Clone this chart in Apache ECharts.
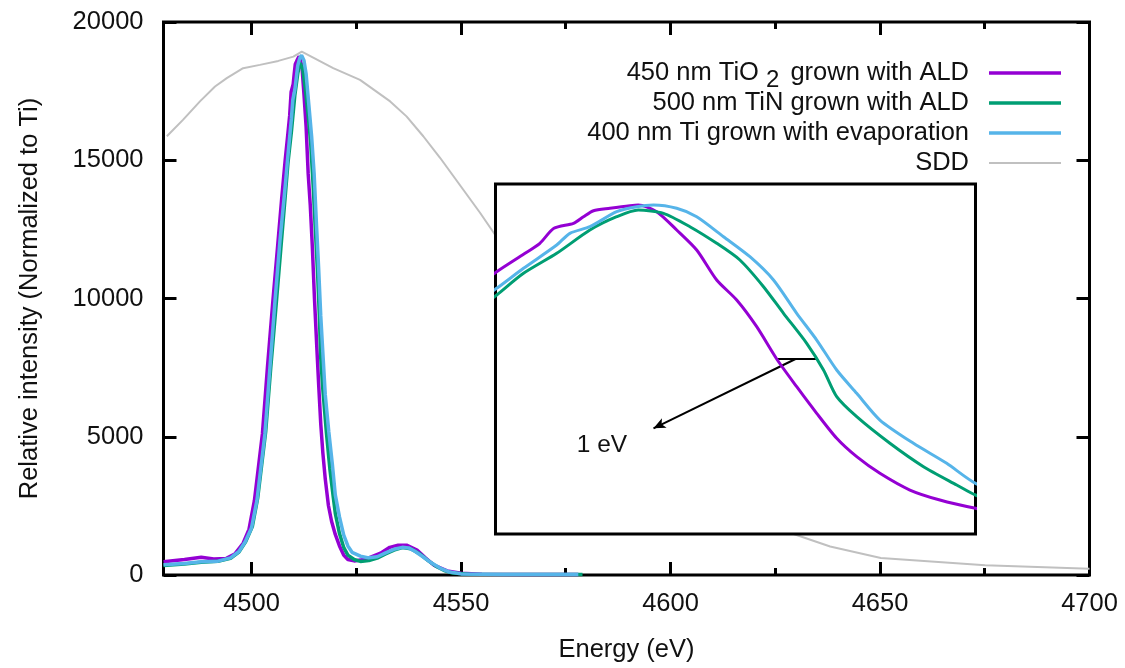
<!DOCTYPE html>
<html>
<head>
<meta charset="utf-8">
<script src="https://cdn.jsdelivr.net/npm/echarts@6/dist/echarts.min.js"></script>
<style>
  html, body { margin: 0; padding: 0; background: #fff; }
  #chart { width: 1125px; height: 668px; }
</style>
</head>
<body>
<div id="chart"></div>
<script>
// Ti K-alpha emission spectra of three Ti films, plus the detector (SDD) response.
const nameTiO2 = '450 nm TiO2 grown with ALD';
const nameTiN = '500 nm TiN grown with ALD';
const nameTi = '400 nm Ti grown with evaporation';
const nameSDD = 'SDD';

// [energy (eV), relative intensity]
const tio2Data = [
  [4479, 480], [4484, 560], [4488, 640], [4491, 580], [4494, 600], [4496, 760], [4498, 1150],
  [4499.4, 1650], [4500.7, 2700], [4502.6, 5100], [4503.8, 7500], [4505.1, 9900], [4506.3, 12000],
  [4507.2, 13600], [4508.03, 14988], [4508.71, 16000], [4509.11, 16611], [4509.46, 17468],
  [4509.95, 17754], [4510.2, 18131], [4510.45, 18474], [4510.86, 18611], [4511.36, 18760],
  [4511.57, 18800], [4512.03, 18417], [4512.53, 17371], [4513.03, 16228], [4513.53, 14514],
  [4514.03, 13371], [4514.53, 11845], [4515.03, 10000], [4515.53, 8417], [4516.03, 6896],
  [4516.53, 5468], [4517.03, 4417], [4517.61, 3468], [4518.36, 2514], [4519.11, 1943],
  [4520, 1468], [4521, 1050], [4522, 720], [4523, 560], [4524.5, 510], [4526, 540], [4528, 620],
  [4530.8, 790], [4533, 1000], [4535, 1080], [4537, 1080], [4539.5, 900], [4541.5, 620],
  [4543.5, 360], [4546.7, 150], [4550, 60], [4555, 30], [4565, 20], [4578, 15]
];

const tinData = [
  [4479, 340], [4484, 400], [4488, 460], [4492, 500], [4495, 600], [4497, 830], [4498.6, 1200],
  [4500.2, 1750], [4501.5, 2800], [4503.4, 5200], [4504.6, 7500], [4505.9, 9800], [4507, 11800],
  [4508.03, 13656], [4508.7, 14897], [4509.53, 16039], [4510.36, 17371], [4511.03, 18131],
  [4511.57, 18514], [4512.2, 18325], [4512.86, 17560], [4513.53, 16611], [4514.11, 15656],
  [4514.7, 14131], [4515.2, 12611], [4515.78, 10896], [4516.2, 9371], [4516.53, 7845],
  [4517.03, 6702], [4517.86, 5182], [4518.7, 3845], [4519.53, 2800], [4520, 2228],
  [4521, 1500], [4522, 1000], [4523, 720], [4524.5, 560], [4526, 490], [4528, 520], [4530, 610],
  [4532, 760], [4534, 900], [4536, 990], [4538, 950], [4540, 780], [4542, 540], [4544, 320],
  [4546, 160], [4548, 70], [4552, 25], [4579, 15]
];

const tiData = [
  [4479, 370], [4484, 420], [4488, 480], [4492, 500], [4495, 620], [4497, 850], [4498.5, 1200],
  [4500, 1700], [4501.3, 2700], [4503.2, 5100], [4504.4, 7500], [4505.6, 9900], [4506.8, 12100],
  [4508.03, 14039], [4508.7, 15182], [4509.53, 16514], [4509.86, 17182], [4510.36, 17560],
  [4511.03, 18417], [4511.53, 18702], [4511.95, 18800], [4512.53, 18611], [4513.03, 18131],
  [4513.7, 16988], [4514.36, 15845], [4514.95, 14514], [4515.53, 12611], [4516.03, 11085],
  [4516.53, 9371], [4517.03, 8039], [4517.61, 6514], [4518.45, 5182], [4519.28, 4039],
  [4520, 2897], [4521, 2100], [4522, 1450], [4523, 1050], [4524, 820], [4526, 680], [4528, 620],
  [4530, 660], [4532, 800], [4534, 930], [4536, 1000], [4537.5, 980], [4539, 860], [4541, 650],
  [4543, 430], [4545, 250], [4547, 120], [4550, 40], [4560, 20], [4578, 15]
];

const sddData = [
  [4479.8, 15868], [4483.7, 16469], [4487.7, 17128], [4491.3, 17668], [4494.1, 17970],
  [4498, 18330], [4502, 18449], [4506.4, 18593], [4510, 18747], [4512, 18927], [4519.5, 18330],
  [4525.9, 17909], [4533.1, 17128], [4537, 16587], [4541, 15868], [4545, 15090], [4554.5, 13110],
  [4558.3, 12268], [4565, 10700], [4575, 8600], [4585, 6600], [4595, 4900], [4605, 3500],
  [4615, 2450], [4622, 1900], [4627.8, 1566], [4638.1, 1030], [4650.2, 612], [4675.1, 349],
  [4700, 230]
];

// Axis ticks
const xMajorTicks = [4500, 4550, 4600, 4650, 4700];
const xMinorTicks = [4525, 4575, 4625, 4675];

// Inset annotation: 1 eV shift between the TiO2 and TiN edges
const shiftBar = [[4515.03, 10000], [4516.03, 10000]];
const arrowFrom = [4515.5, 10000];
const arrowTo = [4511.95, 6040];
const shiftLabelAt = [4510.66, 5086];
const shiftLabel = '1 eV';

const FONT = '"Liberation Sans", Arial, sans-serif';
const FS = 25.5;
const TXT = '#111';
const C_TIO2 = '#9400d3', C_TIN = '#009e73', C_TI = '#56b4e9', C_SDD = '#c0c0c0';

const plainNumber = v => String(v);

const chart = echarts.init(document.getElementById('chart'), null, { renderer: 'canvas' });

function tickAxis(pos, values, len, withLabels) {
  return {
    type: 'value', gridIndex: 0, position: pos, min: 4479, max: 4700,
    axisLine: { show: false },
    splitLine: { show: false },
    axisTick: { show: true, inside: true, length: len, customValues: values,
                lineStyle: { color: '#000', width: 3 } },
    axisLabel: withLabels
      ? { show: true, customValues: values, margin: 16, color: TXT, fontSize: FS, fontFamily: FONT,
          formatter: plainNumber }
      : { show: false }
  };
}

const xBottomMajor = tickAxis('bottom', xMajorTicks, 13, true);
xBottomMajor.name = 'Energy (eV)';
xBottomMajor.nameLocation = 'middle';
xBottomMajor.nameGap = 62;
xBottomMajor.nameTextStyle = { color: TXT, fontSize: FS, fontFamily: FONT };

function yTickAxis(pos, withLabels) {
  const ax = {
    type: 'value', gridIndex: 0, position: pos, min: 0, max: 20000, interval: 5000,
    axisLine: { show: false },
    splitLine: { show: false },
    axisTick: { show: true, inside: true, length: 13, lineStyle: { color: '#000', width: 3 } },
    axisLabel: withLabels
      ? { show: true, margin: 20, color: TXT, fontSize: FS, fontFamily: FONT, formatter: plainNumber }
      : { show: false }
  };
  if (withLabels) {
    ax.name = 'Relative intensity (Normalized to Ti)';
    ax.nameLocation = 'middle';
    ax.nameGap = 121;
    ax.nameTextStyle = { color: TXT, fontSize: FS, fontFamily: FONT };
  }
  return ax;
}

function mainLine(name, data, color, width) {
  return {
    name, type: 'line', xAxisIndex: 0, yAxisIndex: 0, data,
    showSymbol: false, symbol: 'none', smooth: false, z: 2,
    lineStyle: { color, width }, itemStyle: { color },
    emphasis: { disabled: true }
  };
}

function insetLine(name, data, color) {
  return {
    name, type: 'line', xAxisIndex: 4, yAxisIndex: 2, data,
    showSymbol: false, symbol: 'none', smooth: 0.25, z: 6, clip: true,
    lineStyle: { color, width: 3 }, itemStyle: { color },
    emphasis: { disabled: true }
  };
}

const insetTiO2 = insetLine(nameTiO2, tio2Data, C_TIO2);
insetTiO2.markLine = {
  silent: true, animation: false,
  symbol: ['none', 'none'],
  lineStyle: { color: '#000', width: 2, type: 'solid' },
  label: { show: false },
  emphasis: { disabled: true },
  data: [
    [{ coord: shiftBar[0] }, { coord: shiftBar[1] }],
    [{ coord: arrowFrom, symbol: 'none' }, { coord: arrowTo, symbol: 'arrow', symbolSize: [8, 12] }]
  ]
};
insetTiO2.markPoint = {
  silent: true, animation: false,
  symbol: 'rect', symbolSize: 1,
  itemStyle: { color: 'rgba(0,0,0,0)' },
  label: { show: true, position: 'inside', formatter: shiftLabel, color: TXT, fontSize: 24.5, fontFamily: FONT },
  data: [{ coord: shiftLabelAt }]
};

const lineIcon = 'path://M0,0H72V3.5H0Z';
const thinIcon = 'path://M0,0H72V2H0Z';

chart.setOption({
  animation: false,
  backgroundColor: '#fff',
  textStyle: { fontFamily: FONT },
  grid: [
    { left: 163.5, top: 22, width: 926, height: 555.5, show: true, borderColor: '#000', borderWidth: 3,
      backgroundColor: 'rgba(0,0,0,0)', z: 0 },
    { left: 495.5, top: 184, width: 480, height: 350, show: true, borderColor: '#000', borderWidth: 3,
      backgroundColor: '#fff', z: 5 }
  ],
  legend: {
    orient: 'vertical', right: 64, top: 60, padding: 0, itemGap: -2.5,
    itemWidth: 72, itemHeight: 14, align: 'right', selectedMode: false,
    data: [
      { name: nameTiO2, icon: lineIcon },
      { name: nameTiN, icon: lineIcon },
      { name: nameTi, icon: lineIcon },
      { name: nameSDD, icon: thinIcon }
    ],
    formatter: function (name) {
      // every row carries the same (zero-width) subscript token so all rows share one height
      if (name === nameTiO2) return '{n|450 nm TiO }{s|2}{n| grown with ALD}';
      return '{n|' + name + '}{z|\u200b}';
    },
    textStyle: {
      color: TXT, fontSize: FS, fontFamily: FONT, padding: [0, 15, 0, 0],
      rich: {
        n: { color: TXT, fontSize: FS, fontFamily: FONT, lineHeight: 28, verticalAlign: 'middle' },
        s: { color: TXT, fontSize: 24, fontFamily: FONT, height: 13, verticalAlign: 'bottom', padding: [0, 4, 0, 0] },
        z: { color: TXT, fontSize: 24, fontFamily: FONT, height: 13, verticalAlign: 'bottom' }
      }
    }
  },
  xAxis: [
    xBottomMajor,
    tickAxis('bottom', xMinorTicks, 7, false),
    tickAxis('top', xMajorTicks, 13, false),
    tickAxis('top', xMinorTicks, 7, false),
    { type: 'value', gridIndex: 1, min: 4508, max: 4520, show: false }
  ],
  yAxis: [
    yTickAxis('left', true),
    yTickAxis('right', false),
    { type: 'value', gridIndex: 1, min: 0, max: 20000, show: false }
  ],
  series: [
    mainLine(nameTiO2, tio2Data, C_TIO2, 3.5),
    mainLine(nameTiN, tinData, C_TIN, 3.5),
    mainLine(nameTi, tiData, C_TI, 3.5),
    mainLine(nameSDD, sddData, C_SDD, 2),
    insetTiO2,
    insetLine(nameTiN, tinData, C_TIN),
    insetLine(nameTi, tiData, C_TI)
  ]
});
</script>
</body>
</html>
